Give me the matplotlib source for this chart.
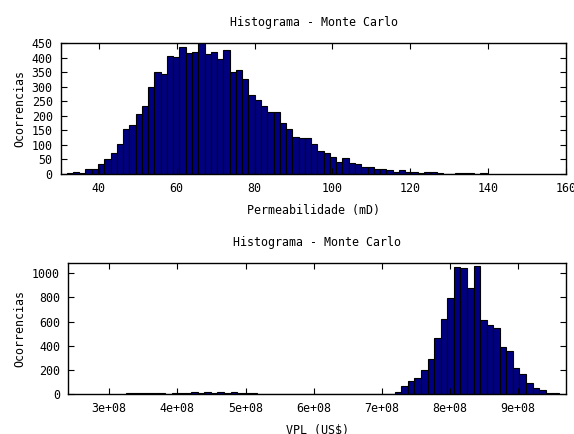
import numpy as np
import matplotlib
matplotlib.use('Agg')
import matplotlib.pyplot as plt
from matplotlib.ticker import FuncFormatter, MultipleLocator

# --- histogram 1: permeabilidade (mD) ---
perm_start = 31.75
perm_width = 1.61
perm_counts = [3, 6, 2, 18, 18, 34, 53, 72, 104, 156, 167, 207, 233, 298, 350,
               342, 405, 401, 437, 416, 420, 451, 411, 420, 395, 427, 350, 359,
               327, 273, 254, 233, 212, 212, 176, 154, 126, 125, 125, 104, 78,
               71, 59, 43, 56, 38, 33, 25, 25, 17, 17, 15, 7, 13, 7, 6, 2, 7,
               6, 2, 0, 0, 2, 2, 2, 0, 2]

# --- histogram 2: VPL (US$) ---
vpl_start = 3.24e8
vpl_width = 9.63e6
vpl_counts = ([7, 7, 7, 7, 7, 7, 0,
               6, 6, 8, 14, 6, 14, 6, 14, 6, 14, 6, 6, 6]
              + [0] * 21
              + [19, 69, 105, 135, 196, 287, 464, 622, 796, 1055, 1041, 881,
                 1063, 616, 569, 547, 390, 356, 213, 166, 91, 52, 30, 8, 8])

BAR = '#000080'
FONT = 'DejaVu Sans Mono'
FS = 8.4

plt.rcParams['font.family'] = FONT
plt.rcParams['font.size'] = FS

fig = plt.figure(figsize=(5.74, 4.34), dpi=100)
ax1 = fig.add_axes([0.1063, 0.599, 0.8798, 0.3025])
ax2 = fig.add_axes([0.1190, 0.0922, 0.8670, 0.3025])


def style(ax):
    ax.tick_params(direction='in', length=4, width=0.8, top=True, right=True,
                   labelsize=FS, pad=6)
    for s in ax.spines.values():
        s.set_linewidth(1.0)


edges1 = perm_start + perm_width * np.arange(len(perm_counts))
ax1.bar(edges1, perm_counts, width=perm_width, align='edge', color=BAR,
        edgecolor='black', linewidth=0.8)
ax1.set_xlim(30.3, 160)
ax1.set_ylim(0, 451)
ax1.xaxis.set_major_locator(MultipleLocator(20))
ax1.yaxis.set_major_locator(MultipleLocator(50))
style(ax1)
ax1.set_title("Histograma - Monte Carlo", fontsize=FS, pad=12)
ax1.set_xlabel("Permeabilidade (mD)", fontsize=FS, labelpad=6)
ax1.set_ylabel("Ocorrencias", fontsize=FS, labelpad=4)

edges2 = vpl_start + vpl_width * np.arange(len(vpl_counts))
ax2.bar(edges2, vpl_counts, width=vpl_width, align='edge', color=BAR,
        edgecolor='black', linewidth=0.8)
ax2.set_xlim(2.4e8, 9.7e8)
ax2.set_ylim(0, 1088)
ax2.set_xticks([3e8, 4e8, 5e8, 6e8, 7e8, 8e8, 9e8])
ax2.xaxis.set_major_formatter(FuncFormatter(lambda v, p: '%.0e' % v))
ax2.yaxis.set_major_locator(MultipleLocator(200))
style(ax2)
ax2.set_title("Histograma - Monte Carlo", fontsize=FS, pad=12)
ax2.set_xlabel("VPL (US$)", fontsize=FS, labelpad=6)
ax2.set_ylabel("Ocorrencias", fontsize=FS, labelpad=4)

fig.savefig('out.png', dpi=100)
